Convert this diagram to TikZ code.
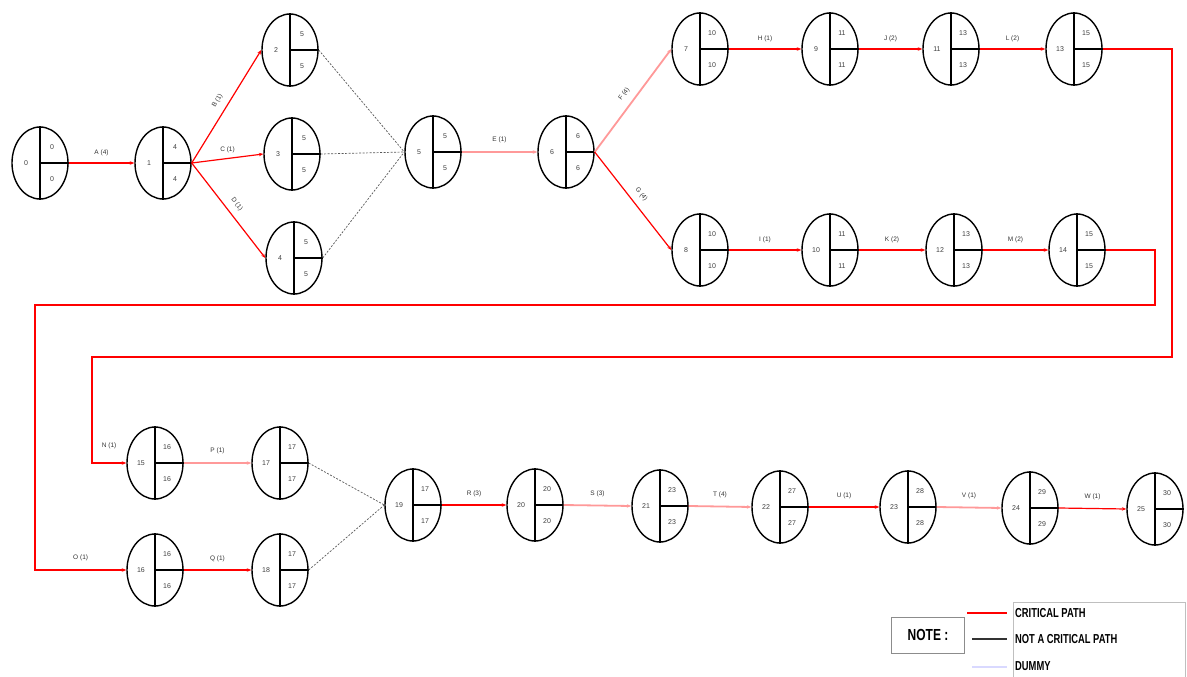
\documentclass[tikz,border=0pt]{standalone}
\usepackage{fontspec}
\setmainfont{Liberation Sans}
\usetikzlibrary{shapes.geometric,arrows.meta,calc}
\tikzset{
  ev/.style={ellipse, draw=black, line width=1.4pt, minimum width=56pt, minimum height=72pt, inner sep=0pt},
  divl/.style={line width=1.4pt, draw=black},
  val/.style={font=\fontsize{7}{7}\selectfont, text=black!75, inner sep=0pt},
  tipsm/.style={-{Stealth[length=4.5pt,width=3.5pt]}},
  crit/.style={draw=red, line width=1.2pt, tipsm},
  critl/.style={draw=red!40, line width=1.8pt, tipsm},
  route/.style={draw=red, line width=1.4pt, tipsm},
  dummy/.style={draw=black!65, dash pattern=on 2pt off 1.5pt, line width=0.7pt},
  elab/.style={font=\fontsize{6.5}{6.5}\selectfont, text=black!80, inner sep=1pt},
  slab/.style={elab, sloped, above=6pt},
  legtext/.style={anchor=west, inner sep=0pt, font=\fontsize{13}{13}\selectfont\bfseries},
}
\newcommand\evnode[6]{%
  \node[ev] (#1) at (#2,#3) {};
  \draw[divl] (#1.north) -- (#1.south);
  \draw[divl] (#1.center) -- (#1.east);
  \node[val] (#1n) at ([xshift=-14pt]#1.center) {#4};
  \node[val] (#1t) at ([xshift=12pt,yshift=16pt]#1.center) {#5};
  \node[val] (#1b) at ([xshift=12pt,yshift=-16pt]#1.center) {#6};
}
\begin{document}
\begin{tikzpicture}[x=1pt,y=-1pt]
\useasboundingbox (0,0) rectangle (1187,677);
\fill[white] (0,0) rectangle (1187,677);

% events
\evnode{n0}{40}{163}{0}{0}{0}
\evnode{n1}{163}{163}{1}{4}{4}
\evnode{n2}{290}{50}{2}{5}{5}
\evnode{n3}{292}{154}{3}{5}{5}
\evnode{n4}{294}{258}{4}{5}{5}
\evnode{n5}{433}{152}{5}{5}{5}
\evnode{n6}{566}{152}{6}{6}{6}
\evnode{n7}{700}{49}{7}{10}{10}
\evnode{n8}{700}{250}{8}{10}{10}
\evnode{n9}{830}{49}{9}{11}{11}
\evnode{n10}{830}{250}{10}{11}{11}
\evnode{n11}{951}{49}{11}{13}{13}
\evnode{n12}{954}{250}{12}{13}{13}
\evnode{n13}{1074}{49}{13}{15}{15}
\evnode{n14}{1077}{250}{14}{15}{15}
\evnode{n15}{155}{463}{15}{16}{16}
\evnode{n16}{155}{570}{16}{16}{16}
\evnode{n17}{280}{463}{17}{17}{17}
\evnode{n18}{280}{570}{18}{17}{17}
\evnode{n19}{413}{505}{19}{17}{17}
\evnode{n20}{535}{505}{20}{20}{20}
\evnode{n21}{660}{506}{21}{23}{23}
\evnode{n22}{780}{507}{22}{27}{27}
\evnode{n23}{908}{507}{23}{28}{28}
\evnode{n24}{1030}{508}{24}{29}{29}
\evnode{n25}{1155}{509}{25}{30}{30}

% activities
\draw[crit] (n0.east) -- node[elab, above=6pt]{A (4)} (n1.west);
\draw[crit] (n1.east) -- node[slab]{B (1)} (n2.west);
\draw[crit] (n1.east) -- node[elab, above=4pt]{C (1)} (n3.west);
\draw[crit] (n1.east) -- node[slab]{D (1)} (n4.west);
\draw[dummy] (n2.east) -- (n5.west);
\draw[dummy] (n3.east) -- (n5.west);
\draw[dummy] (n4.east) -- (n5.west);
\draw[critl] (n5.east) -- node[elab, above=7pt]{E (1)} (n6.west);
\draw[critl] (n6.east) -- node[slab]{F (4)} (n7.west);
\draw[crit] (n6.east) -- node[slab]{G (4)} (n8.west);
\draw[crit] (n7.east) -- node[elab, above=6pt]{H (1)} (n9.west);
\draw[crit] (n9.east) -- node[elab, above=6pt]{J (2)} (n11.west);
\draw[crit] (n11.east) -- node[elab, above=6pt]{L (2)} (n13.west);
\draw[crit] (n8.east) -- node[elab, above=6pt]{I (1)} (n10.west);
\draw[crit] (n10.east) -- node[elab, above=6pt]{K (2)} (n12.west);
\draw[crit] (n12.east) -- node[elab, above=6pt]{M (2)} (n14.west);

\coordinate (c13) at (1172,357);
\coordinate (k15) at (92,463);
\draw[route] (n13.east) -| (c13) -| (k15) -- node[elab, above=12pt]{N (1)} (n15.west);
\coordinate (c14) at (1155,305);
\coordinate (k16) at (35,570);
\draw[route] (n14.east) -| (c14) -| (k16) -- node[elab, above=7pt]{O (1)} (n16.west);

\draw[critl] (n15.east) -- node[elab, above=7pt]{P (1)} (n17.west);
\draw[crit] (n16.east) -- node[elab, above=7pt]{Q (1)} (n18.west);
\draw[dummy] (n17.east) -- (n19.west);
\draw[dummy] (n18.east) -- (n19.west);
\draw[crit] (n19.east) -- node[elab, above=7pt]{R (3)} (n20.west);
\draw[critl] (n20.east) -- node[elab, above=7pt]{S (3)} (n21.west);
\draw[critl] (n21.east) -- node[elab, above=7pt]{T (4)} (n22.west);
\draw[crit] (n22.east) -- node[elab, above=7pt]{U (1)} (n23.west);
\draw[critl] (n23.east) -- node[elab, above=7pt]{V (1)} (n24.west);
\draw[crit] (n24.east) -- node[elab, above=7pt]{W (1)} (n25.west);

% legend
\node[draw=black!45, line width=0.8pt, minimum width=73pt, minimum height=36pt, inner sep=0pt,
      font=\fontsize{16}{16}\selectfont\bfseries] (note) at (928,635) {\scalebox{0.75}[1]{NOTE :}};
\coordinate (bx1) at (1013,690);
\coordinate (bx2) at (1185,602);
\coordinate (bx3) at (1185,690);
\draw[black!25, line width=0.8pt] (bx1) |- (bx2) -- (bx3);
\coordinate (l1a) at (967,613); \coordinate (l1b) at (1007,613);
\coordinate (l2a) at (972,639); \coordinate (l2b) at (1007,639);
\coordinate (l3a) at (972,667); \coordinate (l3b) at (1007,667);
\draw[red, line width=1.2pt] (l1a) -- (l1b);
\draw[black!80, line width=1.2pt] (l2a) -- (l2b);
\draw[blue!15, line width=1.2pt] (l3a) -- (l3b);
\node[legtext] (t1) at (1015,613) {\scalebox{0.72}[1]{CRITICAL PATH}};
\node[legtext] (t2) at (1015,639) {\scalebox{0.72}[1]{NOT A CRITICAL PATH}};
\node[legtext] (t3) at (1015,666) {\scalebox{0.72}[1]{DUMMY}};
\end{tikzpicture}
\end{document}
